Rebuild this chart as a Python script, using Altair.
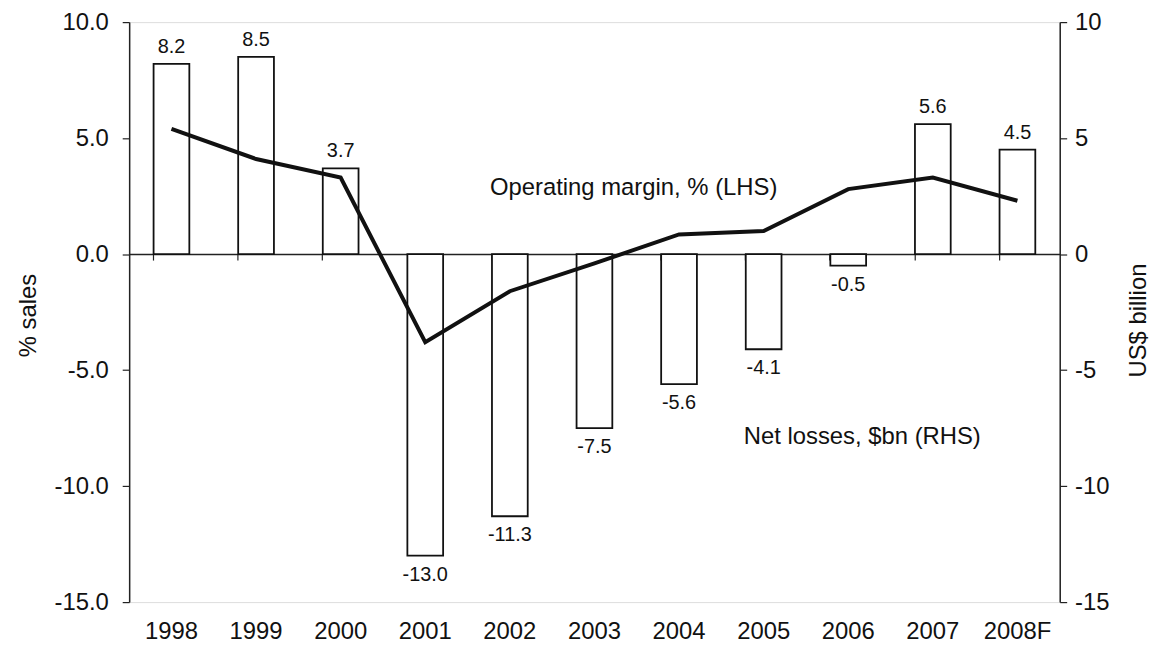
import altair as alt
import pandas as pd

years = ["1998", "1999", "2000", "2001", "2002", "2003", "2004", "2005", "2006", "2007", "2008F"]
net_losses = [8.2, 8.5, 3.7, -13.0, -11.3, -7.5, -5.6, -4.1, -0.5, 5.6, 4.5]
op_margin = [5.4, 4.1, 3.3, -3.8, -1.6, -0.4, 0.85, 1.0, 2.8, 3.3, 2.3]

ann_text = ["Operating margin, % (LHS)", "Net losses, $bn (RHS)"]
ann_year = ["2002", "2005"]
ann_value = [2.85, -7.9]

FONT = "Liberation Sans"
W, H = 937, 584
dom = [-15, 10]

df = pd.DataFrame({"year": years, "loss": net_losses, "margin": op_margin})
df["label"] = [f"{v:.1f}" for v in net_losses]
ann = pd.DataFrame({"year": ann_year, "value": ann_value, "text": ann_text})

xs = alt.Scale(domain=years, paddingInner=0.575, paddingOuter=0.2875)

x_bottom = alt.X("year:N", scale=xs, sort=years, title=None,
                 axis=alt.Axis(orient="bottom", labelAngle=0, domain=False, ticks=False,
                               labelFont=FONT, labelFontSize=24, labelColor="#111",
                               labelPadding=18))
x_zero = alt.X("year:N", scale=xs, sort=years, title=None,
               axis=alt.Axis(orient="bottom", offset=-H * 15 / 25, labels=False,
                             domain=True, domainColor="#222", domainWidth=1.5,
                             ticks=True, tickColor="#222", tickSize=6, tickWidth=1.2,
                             bandPosition=0))

y_right = alt.Y("loss:Q", scale=alt.Scale(domain=dom, nice=False, zero=False),
                title="US$ billion",
                axis=alt.Axis(orient="right", values=[10, 5, 0, -5, -10, -15],
                              labelExpr="replace(format(datum.value, 'd'), '\u2212', '-')",
                              grid=False, domainColor="#222", domainWidth=1.5,
                              tickColor="#222", tickSize=7, tickWidth=1.2,
                              labelFont=FONT, labelFontSize=24, labelColor="#111",
                              labelPadding=8, titleFont=FONT, titleFontSize=24,
                              titleFontWeight="normal", titleColor="#111",
                              titlePadding=42, titleAngle=-90, titleY=300))

bars = alt.Chart(df).mark_bar(fill="white", stroke="#111", strokeWidth=1.8,
                              size=36).encode(x=x_bottom, y=y_right)

txt_pos = alt.Chart(df).transform_filter("datum.loss >= 0").mark_text(
    font=FONT, fontSize=20, color="#111", baseline="bottom", dy=-7
).encode(x=alt.X("year:N", scale=xs, sort=years), y=alt.Y("loss:Q"), text="label:N")

txt_neg = alt.Chart(df).transform_filter("datum.loss < 0").mark_text(
    font=FONT, fontSize=20, color="#111", baseline="top", dy=9
).encode(x=alt.X("year:N", scale=xs, sort=years), y=alt.Y("loss:Q"), text="label:N")

bar_layer = alt.layer(bars, txt_pos, txt_neg)

y_left = alt.Y("margin:Q", scale=alt.Scale(domain=dom, nice=False, zero=False),
               title="% sales",
               axis=alt.Axis(orient="left", values=[10, 5, 0, -5, -10, -15],
                             labelExpr="replace(format(datum.value, '.1f'), '\u2212', '-')",
                             grid=False, domainColor="#222", domainWidth=1.5,
                             tickColor="#222", tickSize=7, tickWidth=1.2,
                             labelFont=FONT, labelFontSize=24, labelColor="#111",
                             labelPadding=14, titleFont=FONT, titleFontSize=24,
                             titleFontWeight="normal", titleColor="#111",
                             titlePadding=14, titleY=295))

line = alt.Chart(df).mark_line(color="#111", strokeWidth=4).encode(x=x_zero, y=y_left)

annot = alt.Chart(ann).mark_text(font=FONT, fontSize=24, color="#111", align="left",
                                 baseline="middle", dx=-20).encode(
    x=alt.X("year:N", scale=xs, sort=years),
    y=alt.Y("value:Q"),
    text="text:N")

line_layer = alt.layer(line, annot)

chart = alt.layer(bar_layer, line_layer).resolve_scale(y="independent").resolve_axis(
    x="independent").properties(
    width=W, height=H,
    autosize=alt.AutoSizeParams(type="none"),
    padding={"left": 122, "top": 12, "right": 105, "bottom": 45},
).configure_view(stroke=None).configure(background="white")

chart.save("out.html", embed_options={"renderer": "svg", "actions": False})
